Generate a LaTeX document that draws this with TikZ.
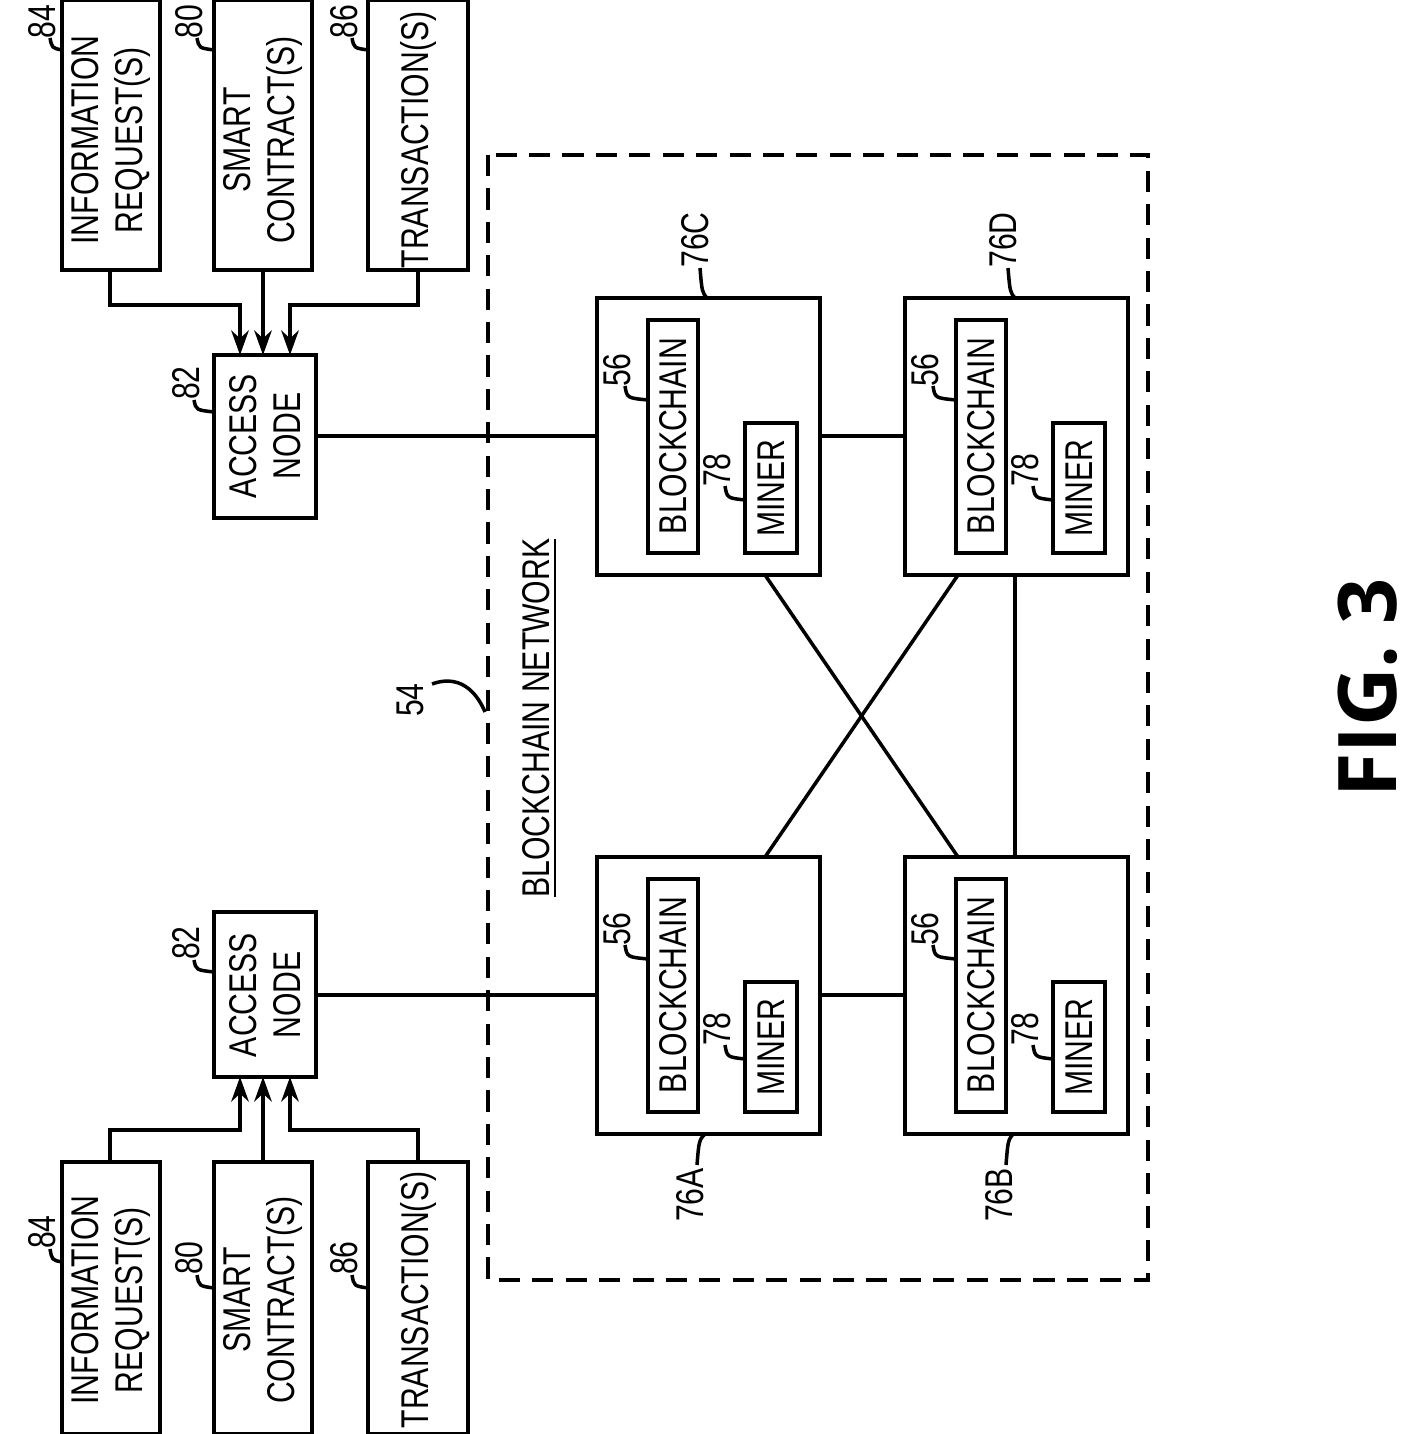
\documentclass[tikz,border=0pt]{standalone}
\usepackage{fontspec}
\setmainfont{Liberation Sans}[FakeStretch=0.78]
\newfontfamily\figfont{Open Sans}
\usetikzlibrary{positioning,arrows.meta}
\tikzset{
  box/.style={draw, line width=1pt},
  lbl/.style={rotate=90, font=\fontsize{11}{12.5}\selectfont, align=center},
  num/.style={rotate=90, font=\fontsize{11}{12.5}\selectfont},
  wire/.style={line width=1pt},
  arr/.style={line width=1pt, -{Stealth[length=7pt,width=5pt]}}
}
\begin{document}
\begin{tikzpicture}[x=0.01cm, y=-0.01cm]
        \useasboundingbox (0,0) rectangle (1415,1434);

        % Input boxes, top and bottom
        \foreach \s/\y/\ya/\yb in {t/140/0/270, b/1300/1162/1434} {
            \draw[box] (62,\ya) rectangle (160,\yb);
            \draw[box] (214,\ya) rectangle (312,\yb);
            \draw[box] (368,\ya) rectangle (468,\yb);
            \node[lbl] (info\s) at (111,\y) {INFORMATION\\REQUEST(S)};
            \node[lbl] (smart\s) at (263,\y) {SMART\\CONTRACT(S)};
            \node[lbl] (trans\s) at (418,\y) {TRANSACTION(S)};
        }
        \node[num] at (42,22) {84};  \draw[wire] (50,38) .. controls (52,48) .. (62,50);
        \node[num] at (189,22) {80}; \draw[wire] (197,38) .. controls (199,48) .. (214,50);
        \node[num] at (344,22) {86}; \draw[wire] (352,38) .. controls (354,48) .. (368,50);
        \node[num] at (42,1232) {84};  \draw[wire] (50,1249) .. controls (52,1260) .. (62,1262);
        \node[num] at (189,1258) {80}; \draw[wire] (197,1275) .. controls (199,1286) .. (214,1288);
        \node[num] at (344,1258) {86}; \draw[wire] (352,1275) .. controls (354,1286) .. (368,1288);

        % Access nodes
        \draw[box] (214,355) rectangle (316,518);
        \node[lbl] (acct) at (265,436) {ACCESS\\NODE};
        \draw[box] (214,912) rectangle (316,1077);
        \node[lbl] (accb) at (265,995) {ACCESS\\NODE};
        \node[num] at (186,383) {82}; \draw[wire] (194,400) .. controls (196,410) .. (214,412);
        \node[num] at (186,943) {82}; \draw[wire] (194,960) .. controls (196,970) .. (214,972);

        % Inputs to access nodes
        \draw[arr] (110,270) -- (110,305) -- (240,305) -- (240,355);
        \draw[arr] (263,270) -- (263,355);
        \draw[arr] (418,270) -- (418,305) -- (290,305) -- (290,355);
        \draw[arr] (110,1162) -- (110,1130) -- (240,1130) -- (240,1077);
        \draw[arr] (263,1162) -- (263,1077);
        \draw[arr] (418,1162) -- (418,1130) -- (290,1130) -- (290,1077);

        % Blockchain network
        \draw[line width=1pt, dash pattern=on 6pt off 3.5pt] (488,155) rectangle (1148,1280);
        \node[num] at (410,700) {54};
        \draw[wire] (432,684) .. controls (465,672) and (480,700) .. (485,712);
        \node[num] (bnet) at (540,718) {\underline{BLOCKCHAIN NETWORK}};

        % Blockchain nodes
        \foreach \n/\x/\y in {C/597/298, D/905/298, A/597/857, B/905/857} {
            \draw[box] (\x,\y) rectangle ++(223,277);
            \draw[box] (\x+51,\y+22) rectangle ++(50,233);
            \draw[box] (\x+148,\y+125) rectangle ++(52,130);
            \node[lbl] (bc\n) at (\x+76,\y+138) {BLOCKCHAIN};
            \node[lbl] (mn\n) at (\x+174,\y+190) {MINER};
            \node[num] at (\x+20,\y+72) {56};
            \draw[wire] (\x+28,\y+88) .. controls (\x+30,\y+100) .. (\x+51,\y+102);
            \node[num] at (\x+120,\y+172) {78};
            \draw[wire] (\x+128,\y+188) .. controls (\x+130,\y+200) .. (\x+148,\y+202);
        }
        \node[num] at (695,240) {76C}; \draw[wire] (700,268) .. controls (702,292) .. (707,298);
        \node[num] at (1003,240) {76D}; \draw[wire] (1008,268) .. controls (1010,292) .. (1015,298);
        \node[num] at (690,1195) {76A}; \draw[wire] (697,1165) .. controls (699,1140) .. (706,1133);
        \node[num] at (999,1195) {76B}; \draw[wire] (1006,1165) .. controls (1008,1140) .. (1014,1133);

        % Connections
        \draw[wire] (316,436) -- (597,436);
        \draw[wire] (316,995) -- (597,995);
        \draw[wire] (820,436) -- (905,436);
        \draw[wire] (820,995) -- (905,995);
        \draw[wire] (1015,575) -- (1015,857);
        \draw[wire] (765,575) -- (958,857);
        \draw[wire] (958,575) -- (765,857);

        \node[rotate=90, font=\figfont\fontsize{23}{28}\selectfont\bfseries] (fig) at (1368,688) {FIG. 3};
    \end{tikzpicture}
\end{document}
